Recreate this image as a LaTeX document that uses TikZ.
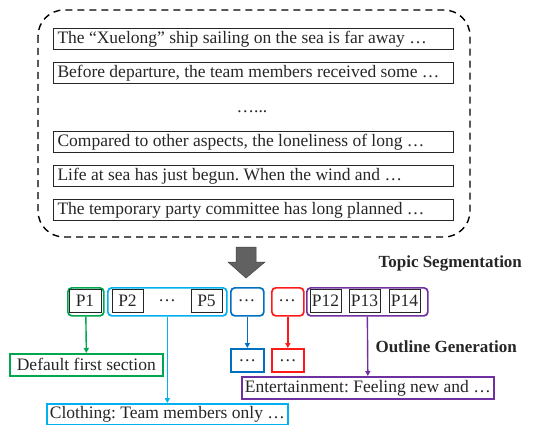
\documentclass[tikz,border=0pt]{standalone}
\usepackage{fontspec}
\setmainfont{Liberation Serif}
\usetikzlibrary{arrows.meta}
\definecolor{cgreen}{HTML}{00A650}
\definecolor{ccyan}{HTML}{00B0F0}
\definecolor{cblue}{HTML}{0070C0}
\definecolor{cred}{HTML}{FF1A1A}
\definecolor{cpurple}{HTML}{7030A0}
\definecolor{txt}{HTML}{262626}
\frenchspacing
\newcommand{\linebox}[1]{\makebox[392pt][l]{#1}}
\begin{document}
\begin{tikzpicture}[x=1pt,y=-1pt,
  every node/.style={font=\fontsize{17.5}{19}\selectfont, text=txt},
  tbox/.style={draw=black!85, line width=1pt, anchor=north west, minimum height=21pt, minimum width=400pt, inner xsep=4pt, inner ysep=0pt, font=\fontsize{17.5}{20}\selectfont},
  pbox/.style={draw=black!85, line width=0.9pt, minimum height=23pt, inner sep=0pt},
  grp/.style={line width=1.7pt, rounded corners=4pt, anchor=north west, minimum height=28pt, inner sep=0pt},
  obox/.style={line width=1.7pt, anchor=north west, inner sep=0pt},
  arr/.style={line width=1.4pt, -{Triangle[length=5pt,width=5pt]}},
  lbl/.style={font=\fontsize{17}{19}\selectfont\bfseries, anchor=west}
]
\useasboundingbox (0,0) rectangle (535,425);
% dashed container
\draw[line width=1.4pt, dash pattern=on 7pt off 5pt, rounded corners=26pt] (38,10) rectangle (470,237);
\node[tbox] (s1) at (53,28) {\linebox{The “Xuelong” ship sailing on the sea is far away …}};
\node[tbox] (s2) at (53,62) {\linebox{Before departure, the team members received some …}};
\node (dots) at (252,112) {…...};
\node[tbox] (s3) at (53,131) {\linebox{Compared to other aspects, the loneliness of long …}};
\node[tbox] (s4) at (53,165) {\linebox{Life at sea has just begun. When the wind and …}};
\node[tbox] (s5) at (53,199) {\linebox{The temporary party committee has long planned …}};
% big arrow
\fill[fill=black!62, draw=black!75, line width=0.5pt] (236,247) -- (256,247) -- (256,262) -- (265,262) -- (246,278) -- (228,262) -- (236,262) -- cycle;
\node[lbl] (ts) at (375,263) {Topic Segmentation};
% groups
\node[grp, draw=cgreen, minimum width=36pt] (g1) at (67,287) {};
\node[pbox, minimum width=32pt] (p1) at (85,301) {P1};
\node[grp, draw=ccyan, minimum width=119pt] (g2) at (107,287) {};
\node[pbox, minimum width=31pt] (p2) at (127.5,301) {P2};
\node (gd) at (167,301) {…};
\node[pbox, minimum width=31pt] (p5) at (206.5,301) {P5};
\node[grp, draw=cblue, minimum width=33pt] (g3) at (230,287) {};
\node (d3) at (246.5,301) {…};
\node[grp, draw=cred, minimum width=32pt] (g4) at (271,287) {};
\node (d4) at (287,301) {…};
\node[grp, draw=cpurple, minimum width=121pt] (g5) at (306,287) {};
\node[pbox, minimum width=31pt] (p12) at (325.5,301) {P12};
\node[pbox, minimum width=31pt] (p13) at (364.5,301) {P13};
\node[pbox, minimum width=31pt] (p14) at (404.5,301) {P14};
% outline boxes
\node[obox, draw=cgreen, minimum width=153pt, minimum height=22pt] (o1) at (9,353) {Default first section};
\node[obox, draw=ccyan, minimum width=241pt, minimum height=21pt] (o2) at (46,403) {Clothing: Team members only …};
\node[obox, draw=cblue, minimum width=33pt, minimum height=23pt] (o3) at (230,348) {…};
\node[obox, draw=cred, minimum width=32pt, minimum height=23pt] (o4) at (271,348) {…};
\node[obox, draw=cpurple, minimum width=252pt, minimum height=22pt] (o5) at (241,376) {Entertainment: Feeling new and …};
\node[lbl] (og) at (372,347) {Outline Generation};
% arrows
\draw[arr, cgreen] (g1.south) -- (o1.north);
\draw[arr, ccyan] (g2.south) -- (o2.north);
\draw[arr, cblue] (g3.south) -- (o3.north);
\draw[arr, cred] (g4.south) -- (o4.north);
\draw[arr, cpurple] (g5.south) -- (o5.north);
\end{tikzpicture}
\end{document}
